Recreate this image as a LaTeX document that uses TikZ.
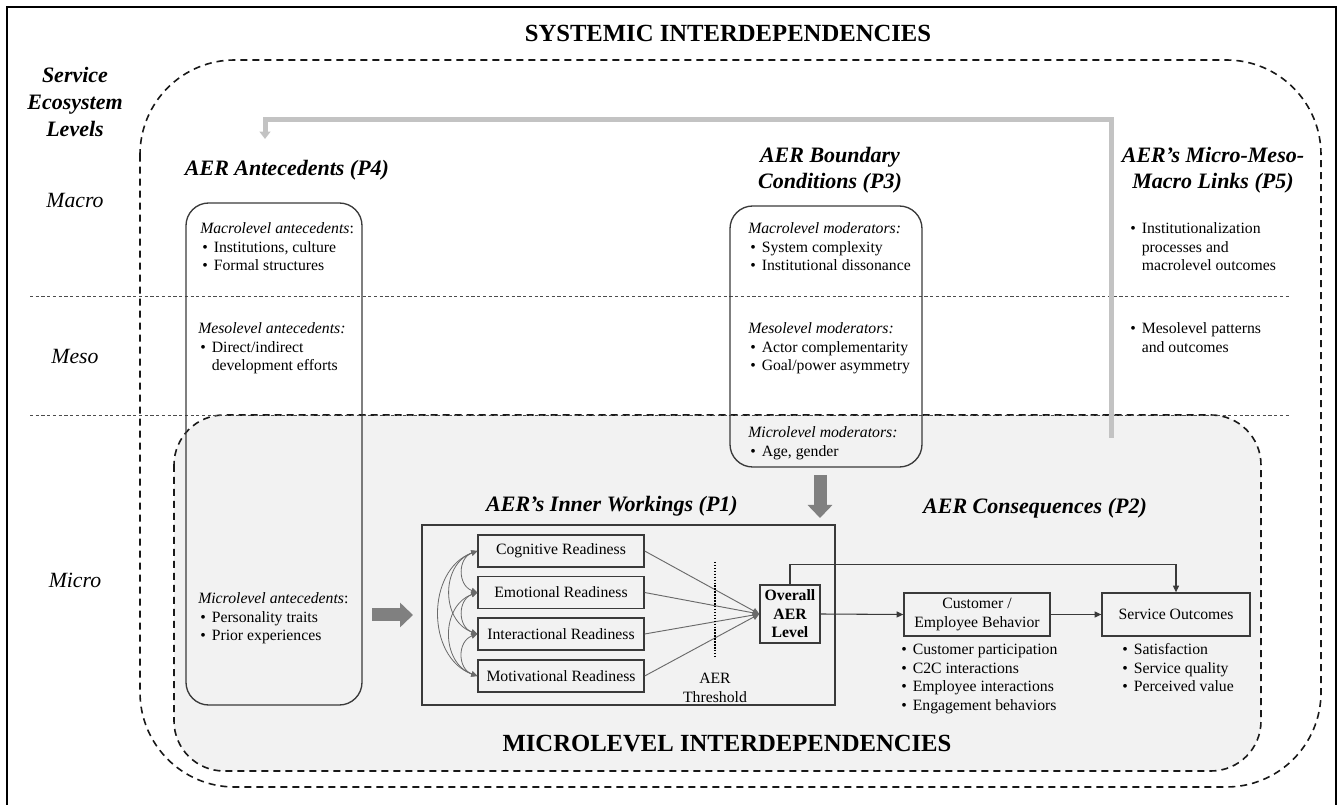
\documentclass[tikz,border=0pt]{standalone}
\usepackage{fontspec}
\setmainfont{Liberation Serif}
\usetikzlibrary{arrows.meta,calc}

% one drawing unit = 0.75pt
\newlength\pxu
\setlength\pxu{0.75pt}

\definecolor{zonegray}{HTML}{F2F2F2}
\definecolor{linegray}{HTML}{3A3A3A}
\definecolor{thingray}{HTML}{6A6A6A}
\definecolor{feedgray}{HTML}{C3C3C3}
\definecolor{blockgray}{HTML}{808080}

\newcommand{\bodyfont}{\fontsize{11.8}{13.9}\selectfont}
\newcommand{\headfont}{\fontsize{16.5}{19.5}\selectfont\bfseries\itshape}
\newcommand{\lvhead}[1]{\multicolumn{2}{@{}l@{}}{#1}}
\newenvironment{blist}{\begin{tabular}{@{\hspace{2\pxu}}l@{\hspace{6\pxu}}l@{}}}{\end{tabular}}

\begin{document}
\begin{tikzpicture}[x=0.75pt,y=-0.75pt,
  zone/.style={draw=black!90, line width=1.2pt, dash pattern=on 5.25pt off 3.75pt},
  divider/.style={draw=black!70, line width=0.7pt, dash pattern=on 2.4pt off 1.9pt},
  pbox/.style 2 args={draw=linegray, line width=1pt, minimum width=#1*0.75pt,
    minimum height=#2*0.75pt, inner sep=0, font=\bodyfont, align=center},
  rbox/.style 2 args={draw=linegray, line width=1pt, minimum width=#1*0.75pt,
    minimum height=#2*0.75pt, inner sep=0, rounded corners=17pt},
  listnode/.style={anchor=north west, inner sep=0, font=\bodyfont},
  heading/.style={inner sep=0, font=\headfont, align=center},
  levelname/.style={inner sep=0, font=\fontsize{16.3}{19}\selectfont\itshape},
  bigtitle/.style={inner sep=0, font=\fontsize{18.5}{22}\selectfont\bfseries},
  flow/.style={draw=linegray, line width=0.8pt, -{Triangle[length=5pt,width=4.5pt]}},
  feed/.style={draw=thingray, line width=0.7pt, -{Triangle[length=5pt,width=4.5pt]}},
  corr/.style={draw=thingray, line width=0.6pt,
    {Triangle[length=4.5pt,width=4pt]}-{Triangle[length=4.5pt,width=4pt]}},
  blockarrow/.style={draw=blockgray, line width=9.75pt,
    -{Triangle[length=9.75pt,width=18pt]}},
  backloop/.style={draw=feedgray, line width=3.75pt, line join=miter,
    -{Triangle[length=5.5pt,width=8pt]}}
]
\useasboundingbox (0,0) rectangle (1340,805);

% ---- zones -------------------------------------------------------------
\draw[zone, fill=zonegray, rounded corners=37.5pt] (174,415) rectangle (1261,771);
\draw[divider] (30,296) -- (1290,296);
\draw[divider] (30,415) -- (1290,415);
\draw[zone, rounded corners=71pt] (140,60) rectangle (1321,787);
\draw[black, line width=1.1pt] (7,7) rectangle (1336,806);

% ---- titles and level names ---------------------------------------------
\node[bigtitle] (systitle) at (728,33) {SYSTEMIC INTERDEPENDENCIES};
\node[bigtitle] (mictitle) at (727,744) {MICROLEVEL INTERDEPENDENCIES};
\node[heading, font=\fontsize{16.5}{19.9}\selectfont\bfseries\itshape] (sel) at (75,102) {Service\\Ecosystem\\Levels};
\node[levelname] (lmacro) at (75,200) {Macro};
\node[levelname] (lmeso) at (75,356) {Meso};
\node[levelname] (lmicro) at (75,580) {Micro};

% ---- feedback loop to the antecedents -------------------------------------
\coordinate (fbstart) at (1111,438);
\coordinate (fbcorner) at (265,120);
\coordinate (fbend) at (265,139);
\draw[backloop] (fbstart) |- (fbcorner) -- (fbend);

% ---- antecedents (P4) -----------------------------------------------------
\node[heading] (antehead) at (287,170) {AER Antecedents (P4)};
\node[rbox={176}{502}] (ante) at (274,454) {};
\node[listnode] (antmac) at (200,220.5) {\begin{blist}
  \lvhead{\textit{Macrolevel antecedents}:}\\
  \textbullet & Institutions, culture\\
  \textbullet & Formal structures
\end{blist}};
\node[listnode] (antmes) at (198,320.5) {\begin{blist}
  \lvhead{\textit{Mesolevel antecedents:}}\\
  \textbullet & Direct/indirect\\
   & development efforts
\end{blist}};
\node[listnode] (antmic) at (198,590.5) {\begin{blist}
  \lvhead{\textit{Microlevel antecedents}:}\\
  \textbullet & Personality traits\\
  \textbullet & Prior experiences
\end{blist}};

% ---- boundary conditions (P3) ---------------------------------------------
\node[heading, font=\fontsize{16.5}{19.5}\selectfont\bfseries\itshape] (bdhead) at (830,170) {AER Boundary\\Conditions (P3)};
\node[rbox={192}{261}] (bound) at (826,336.5) {};
\node[listnode] (bdmac) at (748,220.5) {\begin{blist}
  \lvhead{\textit{Macrolevel moderators:}}\\
  \textbullet & System complexity\\
  \textbullet & Institutional dissonance
\end{blist}};
\node[listnode] (bdmes) at (748,320.5) {\begin{blist}
  \lvhead{\textit{Mesolevel moderators:}}\\
  \textbullet & Actor complementarity\\
  \textbullet & Goal/power asymmetry
\end{blist}};
\node[listnode] (bdmic) at (748,424.5) {\begin{blist}
  \lvhead{\textit{Microlevel moderators:}}\\
  \textbullet & Age, gender
\end{blist}};

% ---- micro-meso-macro links (P5) ------------------------------------------
\node[heading] (p5head) at (1213,170) {AER’s Micro-Meso-\\Macro Links (P5)};
\node[listnode] (p5mac) at (1128,220.5) {\begin{blist}
  \textbullet & Institutionalization\\
   & processes and\\
   & macrolevel outcomes
\end{blist}};
\node[listnode] (p5mes) at (1128,320.5) {\begin{blist}
  \textbullet & Mesolevel patterns\\
   & and outcomes
\end{blist}};

% ---- inner workings (P1) --------------------------------------------------
\node[heading] (iwhead) at (612,506) {AER’s Inner Workings (P1)};
\node[pbox={413}{180}] (inner) at (628.5,615) {};
\node[pbox={166}{32}] (cog) at (561,551) {Cognitive Readiness};
\node[pbox={166}{32}] (emo) at (561,592.5) {Emotional Readiness};
\node[pbox={166}{32}] (int) at (561,634) {Interactional Readiness};
\node[pbox={166}{32}] (mot) at (561,676) {Motivational Readiness};
\node[pbox={60}{58}, font=\bodyfont\bfseries] (overall) at (790,614) {Overall\\AER\\Level};

\draw[corr] (cog.west) to[out=200,in=160,looseness=1.3] (emo.west);
\draw[corr] (emo.west) to[out=200,in=160,looseness=1.3] (int.west);
\draw[corr] (int.west) to[out=200,in=160,looseness=1.3] (mot.west);
\draw[corr] (cog.west) to[out=200,in=160,looseness=1.2] (int.west);
\draw[corr] (emo.west) to[out=200,in=160,looseness=1.2] (mot.west);
\draw[corr] (cog.west) to[out=200,in=160,looseness=1.12] (mot.west);

\foreach \r in {cog,emo,int,mot}
  \draw[feed] (\r.east) -- (overall.west);

\draw[black, line width=1.2pt, dash pattern=on 1.1pt off 1.1pt] (715,562) -- (715,658);
\node[inner sep=0, font=\fontsize{11.8}{14}\selectfont, align=center] (thr) at (715,688) {AER\\Threshold};

% ---- consequences (P2) ----------------------------------------------------
\node[heading] (cqhead) at (1035,508) {AER Consequences (P2)};
\node[pbox={146}{43}] (cust) at (977,614.5) {Customer /\\Employee Behavior};
\node[pbox={148}{43}] (serv) at (1176,614.5) {Service Outcomes};
\node[listnode] (custlist) at (899,641.5) {\begin{blist}
  \textbullet & Customer participation\\
  \textbullet & C2C interactions\\
  \textbullet & Employee interactions\\
  \textbullet & Engagement behaviors
\end{blist}};
\node[listnode] (servlist) at (1120,641.5) {\begin{blist}
  \textbullet & Satisfaction\\
  \textbullet & Service quality\\
  \textbullet & Perceived value
\end{blist}};

\draw[flow] (overall.east) -- (cust.west);
\draw[flow] (cust.east) -- (serv.west);
\draw[flow] (overall.north) -- ++(0,-20) -| (serv.north);

% ---- block arrows ---------------------------------------------------------
\coordinate (raS) at (372,615);
\coordinate (raE) at (413,615);
\draw[blockarrow] (raS) -- (raE);
\coordinate (daS) at (820,475);
\coordinate (daE) at (820,518);
\draw[blockarrow] (daS) -- (daE);
\end{tikzpicture}
\end{document}
